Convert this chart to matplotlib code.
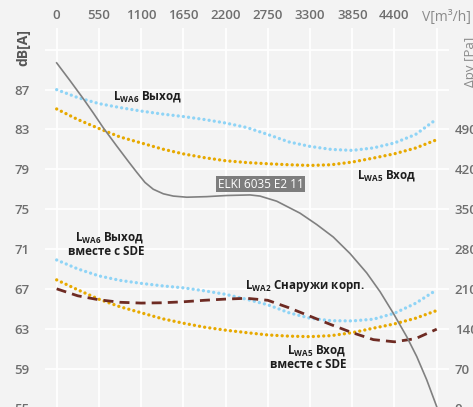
import matplotlib
matplotlib.use("Agg")
import matplotlib.pyplot as plt

plt.rcParams['font.family'] = ['Open Sans', 'DejaVu Sans']
plt.rcParams['mathtext.fontset'] = 'custom'
plt.rcParams['mathtext.rm'] = 'Open Sans:bold'
plt.rcParams['mathtext.bf'] = 'Open Sans:bold'

# ---- data ----
flow = [0, 275, 550, 825, 1100, 1375, 1650, 1925, 2200, 2475, 2750,
        3025, 3300, 3575, 3850, 4125, 4400, 4675, 4950]
lwa6_out = [87.0, 86.2, 85.6, 85.2, 84.85, 84.55, 84.3, 84.0, 83.65, 83.2,
            82.5, 81.75, 81.3, 81.0, 80.9, 81.15, 81.65, 82.5, 84.05]
lwa5_in = [85.06, 84.0, 83.1, 82.25, 81.65, 81.04, 80.55, 80.17, 79.86, 79.68,
           79.56, 79.46, 79.39, 79.46, 79.73, 80.13, 80.56, 81.14, 81.97]
lwa6_out_sde = [69.9, 69.0, 68.3, 67.85, 67.55, 67.3, 67.1, 66.8, 66.45, 65.95,
                65.4, 64.6, 64.05, 63.8, 63.78, 63.95, 64.55, 65.55, 66.9]
lwa5_in_sde = [67.9, 66.9, 65.96, 65.2, 64.6, 64.0, 63.55, 63.15, 62.85, 62.6,
               62.37, 62.25, 62.2, 62.3, 62.6, 63.05, 63.48, 64.05, 64.82]
lwa2_case = [67.0, 66.3, 65.9, 65.65, 65.57, 65.6, 65.7, 65.85, 65.97, 66.05,
             65.85, 65.1, 64.25, 63.4, 62.6, 61.9, 61.68, 62.0, 62.95]

fan_flow = [0, 173, 347, 477, 607, 782, 933, 1042, 1150, 1258, 1389, 1519,
            1694, 1954, 2215, 2518, 2648, 2866, 3169, 3387, 3603, 3821, 4038,
            4212, 4385, 4559, 4690, 4820, 4950]
fan_pa = [607, 576, 544, 519, 493, 461, 434, 415, 397, 385, 377, 373,
          371, 372, 374, 375, 373, 364, 343, 323, 301, 272, 238,
          205, 167, 126, 91, 50, 3]

x_ticks = [0, 550, 1100, 1650, 2200, 2750, 3300, 3850, 4400]
x_grid = x_ticks + [4950]
db_ticks = [55, 59, 63, 67, 71, 75, 79, 83, 87, 91]
db_labels = ['55', '59', '63', '67', '71', '75', '79', '83', '87', '']
pa_ticks = [0, 70, 140, 210, 280, 350, 420, 490, 560]
pa_labels = ['0', '70', '140', '210', '280', '350', '420', '490', '']

# ---- styles ----
BG = '#f3f3f3'
BLUE = '#8fd4f6'
ORANGE = '#e7a900'
BROWN = '#6e2b23'
GRAYLINE = '#808080'
TICKC = '#6e6e6e'
TXT = '#1e1e1e'

fig = plt.figure(figsize=(4.73, 4.07), dpi=100, facecolor=BG)
ax = fig.add_axes([45/473, (407-420)/407, (449-45)/473, (420-28)/407])
ax.set_facecolor(BG)
for s in ax.spines.values():
    s.set_visible(False)

ylim = (53.83, 93.19)
ax.set_xlim(-152, 5110)
ax.set_ylim(*ylim)

ax.set_xticks(x_grid)
ax.set_xticklabels([str(v) for v in x_ticks] + [''])
ax.set_yticks(db_ticks)
ax.set_yticklabels(db_labels)
ax.xaxis.tick_top()
ax.tick_params(axis='x', length=0, pad=4, labelsize=9.5, labelcolor=TICKC)
ax.tick_params(axis='y', length=0, pad=11, labelsize=9.5, labelcolor=TICKC)
for lab in ax.get_xticklabels() + ax.get_yticklabels():
    lab.set_fontweight('semibold')
ax.grid(True, color='white', lw=1.3)
ax.set_axisbelow(True)

dot = dict(lw=2.4, linestyle=(0, (0.01, 1.55)), dash_capstyle='round')
ax.plot(flow, lwa6_out, color=BLUE, **dot, zorder=3)
ax.plot(flow, lwa5_in, color=ORANGE, **dot, zorder=3)
ax.plot(flow, lwa6_out_sde, color=BLUE, **dot, zorder=3)
ax.plot(flow, lwa5_in_sde, color=ORANGE, **dot, zorder=3)
ax.plot(flow, lwa2_case, color=BROWN, lw=2.0, linestyle=(0, (3.6, 2.2)), zorder=4)

# right axis (pressure)
ax2 = ax.twinx()
conv = lambda d: (d - 55) * 17.5
ax2.set_ylim(conv(ylim[0]), conv(ylim[1]))
for s in ax2.spines.values():
    s.set_visible(False)
ax2.set_yticks(pa_ticks)
ax2.set_yticklabels(pa_labels)
ax2.tick_params(axis='y', length=0, pad=4, labelsize=9.5, labelcolor=TICKC)
for lab in ax2.get_yticklabels():
    lab.set_fontweight('semibold')
ax2.plot(fan_flow, fan_pa, color=GRAYLINE, lw=1.2, zorder=5)

# annotations
fs = 8.4
ax.text(733, 86.3, r'L$_{\rm WA6}$ Выход', fontsize=fs, fontweight='bold',
        color=TXT, ha='left', va='center', zorder=6)
ax.text(3912, 78.36, r'L$_{\rm WA5}$ Вход', fontsize=fs, fontweight='bold',
        color=TXT, ha='left', va='center', zorder=6)
ax.text(1137, 71.52, 'L$_{\\rm WA6}$ Выход\nвместе с SDE', fontsize=fs,
        fontweight='bold', color=TXT, ha='right', va='center',
        multialignment='right', linespacing=1.0, zorder=6)
ax.text(2453, 67.3, r'L$_{\rm WA2}$ Снаружи корп.', fontsize=fs,
        fontweight='bold', color=TXT, ha='left', va='center', zorder=6)
ax.text(3769, 60.2, 'L$_{\\rm WA5}$ Вход\nвместе с SDE', fontsize=fs,
        fontweight='bold', color=TXT, ha='right', va='center',
        multialignment='right', linespacing=1.0, zorder=6)
ax.text(2655, 77.5, 'ELKI 6035 E2 11', fontsize=8.5, color='white',
        ha='center', va='center', zorder=7,
        bbox=dict(boxstyle='square,pad=0.12', fc='#7d7d7d', ec='none'))

# axis titles
fig.text(23/473, 1 - 47/407, 'dB[A]', rotation=90, fontsize=10,
         fontweight='bold', color='#555555', ha='center', va='center')
fig.text(422/473, 1 - 17/407, 'V[m³/h]', fontsize=10, color='#8a8a8a',
         ha='left', va='center')
fig.text(470/473, 1 - 62/407, 'Δpv [Pa]', rotation=90, fontsize=9.5,
         color='#8a8a8a', ha='center', va='center')

fig.savefig('out.png', dpi=100, facecolor=BG)
